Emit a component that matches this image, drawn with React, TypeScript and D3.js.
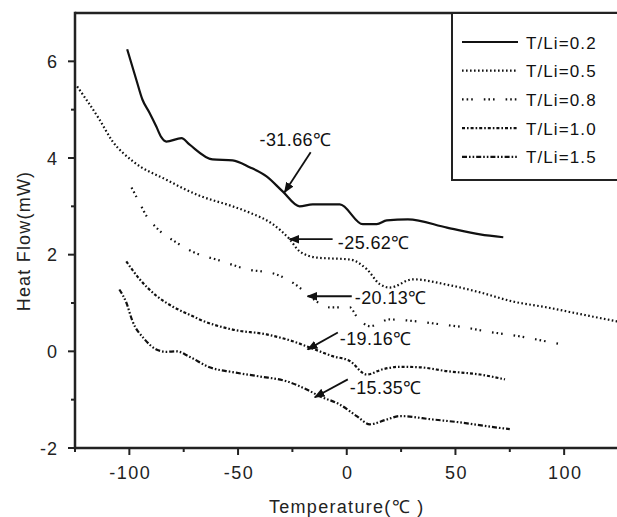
import React from 'react'
import { scaleLinear, line, curveMonotoneX } from 'd3'

// temperatures (°C) and heat flow (mW)
const t02 = [-101, -96.8, -94, -90.8, -87.6, -85.3, -83, -76, -72.4, -61.8, -52.5, -44.7, -36.9, -29.5, -21.7, -15.7, -3.2, 7.4, 13.8, 18.4, 28.1, 46.1, 61.3, 72]
const h02 = [6.25, 5.62, 5.21, 4.94, 4.65, 4.43, 4.34, 4.41, 4.28, 3.97, 3.95, 3.81, 3.62, 3.31, 3.0, 3.04, 3.04, 2.63, 2.63, 2.71, 2.73, 2.56, 2.42, 2.36]

const t05 = [-124, -113.8, -107.8, -98.6, -83, -67.7, -52.5, -44.7, -34, -26.3, -21.7, -13.8, 1.4, 9.2, 15.2, 19.8, 30.4, 46, 61.3, 76.5, 92, 107.4, 124.4]
const h05 = [5.48, 4.8, 4.35, 3.94, 3.55, 3.22, 3.0, 2.87, 2.63, 2.32, 2.07, 1.94, 1.9, 1.7, 1.39, 1.32, 1.49, 1.38, 1.22, 1.03, 0.91, 0.77, 0.62]

const t08 = [-99, -95.4, -91.7, -87.6, -78.3, -67.7, -60, -46, -32.3, -21.7, -17, -7.8, 1.4, 4.6, 10.6, 19.8, 32, 42.9, 53.5, 64.5, 79.7, 93.5, 98.2]
const h08 = [3.39, 3.08, 2.77, 2.56, 2.25, 2.0, 1.9, 1.7, 1.59, 1.32, 1.14, 0.91, 0.91, 0.72, 0.52, 0.66, 0.62, 0.56, 0.5, 0.41, 0.31, 0.19, 0.15]

const t10 = [-101.4, -95.4, -87.6, -80.2, -71, -67.7, -52.5, -36.9, -24.9, -17, -6.5, 1.4, 9.2, 16.6, 24.4, 33.6, 46, 61.3, 72.8]
const h10 = [1.86, 1.5, 1.15, 0.93, 0.73, 0.66, 0.45, 0.35, 0.21, 0.08, -0.1, -0.2, -0.48, -0.37, -0.32, -0.33, -0.41, -0.48, -0.58]

const t15 = [-104.6, -101.4, -98.6, -93, -87.6, -83, -78.3, -72.4, -63.1, -52.5, -40, -27.6, -18.4, -12.4, -3.2, 4.6, 10.6, 18.4, 24.4, 39.6, 52, 64.5, 75]
const h15 = [1.28, 1.01, 0.63, 0.25, 0.04, -0.01, 0, -0.11, -0.33, -0.43, -0.52, -0.62, -0.79, -0.93, -1.1, -1.34, -1.51, -1.41, -1.34, -1.41, -1.47, -1.55, -1.61]

const seriesNames = ['T/Li=0.2', 'T/Li=0.5', 'T/Li=0.8', 'T/Li=1.0', 'T/Li=1.5']
const seriesT = [t02, t05, t08, t10, t15]
const seriesH = [h02, h05, h08, h10, h15]
const dashes = ['none', '1.6 2.4', '1.6 3 1.6 3 1.6 11', '3 2 1.6 2', '5 2 1.6 2 1.6 2']

// peak annotations: label, arrow tip (t, h), arrow tail (t, h), text anchor (t, h)
const peakLabels = ['-31.66℃', '-25.62℃', '-20.13℃', '-19.16℃', '-15.35℃']
const tipT = [-28.6, -26.3, -18, -18, -14.7]
const tipH = [3.29, 2.32, 1.14, 0.04, -0.95]
const tailT = [-16.6, -6.5, 2.3, -4.1, 0.5]
const tailH = [4.12, 2.32, 1.14, 0.39, -0.58]
const textT = [-40.1, -4.1, 3.7, -3.2, 1.4]
const textH = [4.24, 2.11, 0.97, 0.14, -0.89]

const xTicks = [-100, -50, 0, 50, 100]
const xMinor = [-125, -75, -25, 25, 75, 125]
const yTicks = [-2, 0, 2, 4, 6]
const yMinor = [-1, 1, 3, 5]

const W = 617
const H = 517
const left = 75
const right = 618.5
const top = 13
const bottom = 448

export default function App() {
	const x = scaleLinear().domain([-125, 125]).range([left, right])
	const y = scaleLinear().domain([-2, 7]).range([bottom, top])

	const path = (ts: number[], hs: number[]) =>
		line<number>()
			.x((d, i) => x(ts[i]))
			.y((d, i) => y(hs[i]))
			.curve(curveMonotoneX)(ts)

	const font = 'Arial, "Liberation Sans", sans-serif'

	return (
		<svg width={W} height={H} style={{ position: 'absolute', left: 0, top: 0 }} fontFamily={font}>
			<defs>
				<marker id="arr" viewBox="0 0 10 10" refX="9" refY="5" markerWidth="6" markerHeight="6" orient="auto">
					<path d="M0,1 L10,5 L0,9 z" fill="#111" />
				</marker>
			</defs>
			<rect width={W} height={H} fill="#fff" />

			{seriesT.map((ts, i) => (
				<path
					key={seriesNames[i]}
					d={path(ts, seriesH[i]) || ''}
					fill="none"
					stroke="#111"
					strokeWidth={2.2}
					strokeDasharray={dashes[i]}
					strokeLinecap="butt"
				/>
			))}

			{peakLabels.map((lab, i) => (
				<g key={lab}>
					<line
						x1={x(tailT[i])}
						y1={y(tailH[i])}
						x2={x(tipT[i])}
						y2={y(tipH[i])}
						stroke="#111"
						strokeWidth={1.8}
						markerEnd="url(#arr)"
					/>
					<text x={x(textT[i])} y={y(textH[i])} fontSize={18} fill="#111" letterSpacing={0.4}>
						{lab}
					</text>
				</g>
			))}

			{/* frame */}
			<line x1={left} y1={top} x2={W} y2={top} stroke="#222" strokeWidth={2.5} />
			<line x1={left} y1={top - 1.2} x2={left} y2={bottom + 1.2} stroke="#222" strokeWidth={2.5} />
			<line x1={left} y1={bottom} x2={W} y2={bottom} stroke="#222" strokeWidth={2.5} />

			{xTicks.map((t) => (
				<g key={'x' + t}>
					<line x1={x(t)} x2={x(t)} y1={bottom} y2={bottom + 7} stroke="#222" strokeWidth={2} />
					<text x={x(t) + 1} y={bottom + 31} fontSize={18} textAnchor="middle" fill="#222" letterSpacing={1.5}>
						{t}
					</text>
				</g>
			))}
			{xMinor.map((t) => (
				<line key={'xm' + t} x1={x(t)} x2={x(t)} y1={bottom} y2={bottom + 4} stroke="#222" strokeWidth={2} />
			))}
			{yTicks.map((v) => (
				<g key={'y' + v}>
					<line x1={left - 7} x2={left} y1={y(v)} y2={y(v)} stroke="#222" strokeWidth={2} />
					<text x={left - 17} y={y(v) + 6.5} fontSize={18} textAnchor="end" fill="#222" letterSpacing={1}>
						{v}
					</text>
				</g>
			))}
			{yMinor.map((v) => (
				<line key={'ym' + v} x1={left - 4} x2={left} y1={y(v)} y2={y(v)} stroke="#222" strokeWidth={2} />
			))}

			<text x={x(0)} y={513} fontSize={18} textAnchor="middle" fill="#222" letterSpacing={1.3}>
				Temperature(℃ )
			</text>
			<text
				transform={`translate(30, 241) rotate(-90)`}
				fontSize={18}
				textAnchor="middle"
				fill="#222"
				letterSpacing={1.2}
			>
				Heat Flow(mW)
			</text>

			{/* legend */}
			<rect x={452} y={top} width={W} height={167} fill="#fff" stroke="#222" strokeWidth={2} />
			{seriesNames.map((n, i) => (
				<g key={'lg' + n}>
					<line
						x1={462}
						x2={518}
						y1={42 + i * 28.7}
						y2={42 + i * 28.7}
						stroke="#111"
						strokeWidth={2.2}
						strokeDasharray={dashes[i]}
					/>
					<text x={526} y={42 + i * 28.7 + 6.5} fontSize={17} fill="#111" letterSpacing={1.1}>
						{n}
					</text>
				</g>
			))}
		</svg>
	)
}
